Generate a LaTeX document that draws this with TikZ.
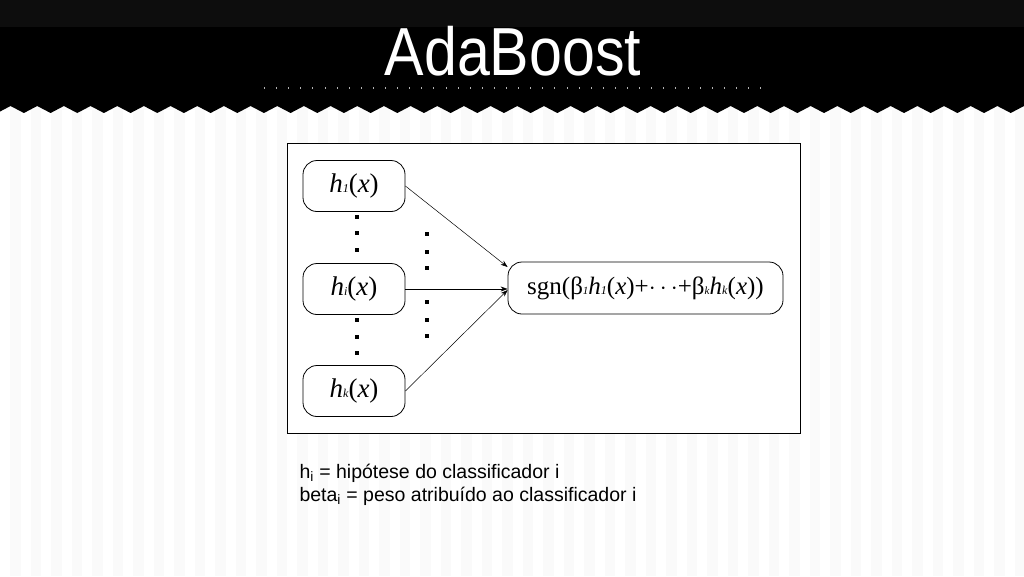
\documentclass[tikz,border=0pt]{standalone}
\usepackage{fontspec}
\setmainfont{Liberation Serif}
\newfontfamily\ttl{Liberation Sans}
\usetikzlibrary{arrows.meta}
\tikzset{hbox/.style={draw,rounded corners=14pt,minimum width=102pt,minimum height=51pt,line width=0.8pt,font=\fontsize{27}{27}\selectfont,inner sep=0pt},
arr/.style={-{Stealth[length=7pt,width=5pt]},line width=0.5pt},
dot/.style={fill,minimum size=3.6pt,inner sep=0pt}}
\newcommand{\hx}[1]{\textit{h}{\fontsize{12}{12}\selectfont\textit{#1}}(\textit{x})}
\begin{document}
\begin{tikzpicture}[x=1pt,y=-1pt]
\useasboundingbox (0,0) rectangle (1024,576);
\fill[gray!4] (0,0) rectangle (1024,576);
\foreach \i in {0,...,50}{\fill[white] (\i*20.5,110) rectangle ++(10,466);}
\fill[black!95] (0,0) rectangle (1024,27);
\fill[black] (0,27) -- (1024,27) -- (1024,106)
  \foreach \k in {0,...,38}{ -- ({1024-\k*26.67-13.3},113) -- ({1024-(\k+1)*26.67},106)} -- (0,106) -- cycle;
\node[white,font=\ttl\fontsize{68}{68}\selectfont,xscale=0.87] (title) at (513,51) {AdaBoost};
\foreach \i in {0,...,41}{\fill[white!70!black] (264+\i*12.1,87) rectangle ++(0.9,2);}
\node[draw,fill=white,line width=0.6pt,minimum width=513pt,minimum height=290pt,inner sep=0pt] (frame) at (543.5,288) {};
\node[hbox] (h1) at (354,186) {\hx{1}};
\node[hbox] (hi) at (354,289) {\hx{i}};
\node[hbox] (hk) at (354,391) {\hx{k}};
\node[hbox,minimum width=275pt,minimum height=52pt,font=\fontsize{25}{25}\selectfont] (sum) at (645.5,288) {sgn(β{\fontsize{11}{11}\selectfont\textit{1}}\hx{1}+$\cdots$+β{\fontsize{11}{11}\selectfont\textit{k}}\hx{k})};
\draw[arr] (h1.east) -- (sum.west |- 0,267) coordinate (s1);
\draw[arr] (hi.east) -- (sum.west |- hi.east);
\draw[arr] (hk.east) -- (sum.west |- 0,290) coordinate (s3);
\foreach \y in {217,233,250,320,337,353}{\node[dot] at (357,\y) {};}
\foreach \y in {234,252,268,302,320,336}{\node[dot] at (427,\y) {};}
\node[anchor=west,font=\ttl\fontsize{19.5}{23}\selectfont,align=left] (leg) at (296,485) {h\textsubscript{i} = hipótese do classificador i\\beta\textsubscript{i} = peso atribuído ao classificador i};
\end{tikzpicture}
\end{document}
